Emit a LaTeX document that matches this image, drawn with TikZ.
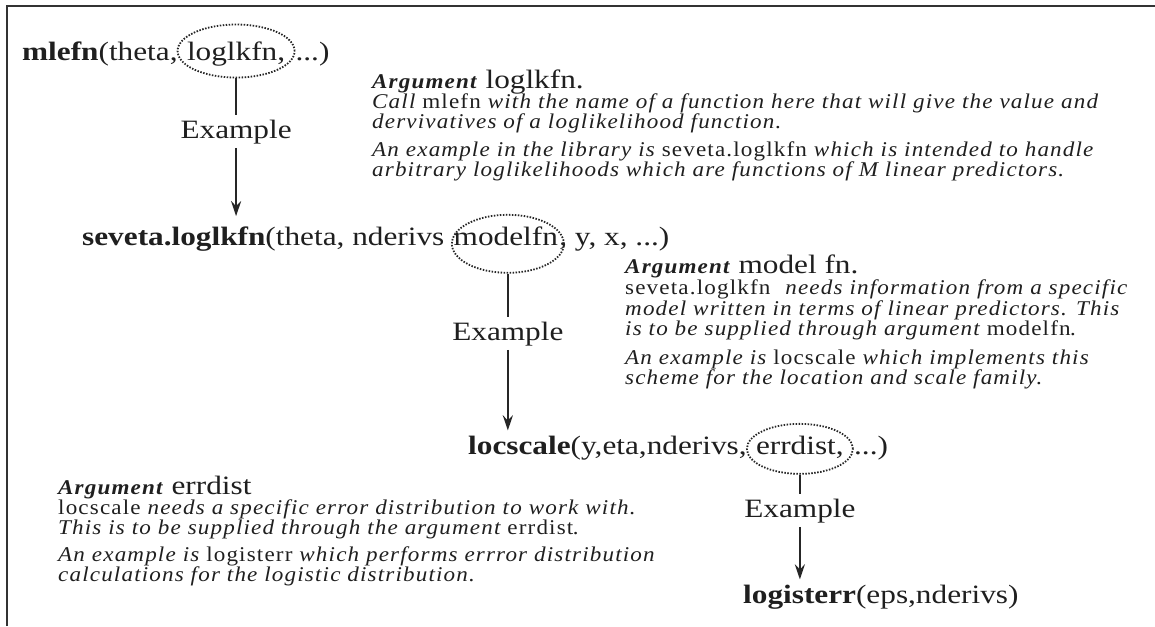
\documentclass[tikz,border=0pt]{standalone}
\usepackage{fontspec}
\setmainfont{Liberation Serif}[
  BoldFont={Liberation Serif Bold},
  ItalicFont={Liberation Serif Italic},
  BoldItalicFont={Liberation Serif Bold Italic},
  FakeStretch=1.18]
\newfontfamily\bodyfam{Liberation Serif}[
  BoldFont={Liberation Serif Bold},
  ItalicFont={Liberation Serif Italic},
  BoldItalicFont={Liberation Serif Bold Italic},
  FakeStretch=1.1, LetterSpace=5.5]
\usetikzlibrary{arrows.meta,shapes.geometric}
\newcommand{\mainsz}{\fontsize{26.5}{30}\selectfont}
\newcommand{\bodysz}{\bodyfam\fontsize{21}{21}\selectfont}
\tikzset{
  rowtext/.style={font=\mainsz, inner sep=0pt, anchor=base west, text=black!88},
  bodyline/.style={font=\bodysz\itshape, inner sep=0pt, anchor=base west, text=black!88},
  exlabel/.style={font=\mainsz, inner xsep=2pt, inner ysep=4pt, anchor=base, text=black!88},
  dotell/.style={ellipse, draw=black!85, line width=1.8pt, dash pattern=on 1.5pt off 1.5pt, inner sep=0pt},
  conn/.style={line width=2.3pt, draw=black!85},
  arr/.style={conn, -{Stealth[length=15pt,width=10pt,inset=5pt]}},
  frame/.style={line width=2.6pt, draw=black!80},
}
\newcommand{\hd}[1]{\textbf{Argument}\hspace{9pt}{\rmfamily\mainsz\upshape #1}}
\begin{document}
\begin{tikzpicture}[x=1pt,y=-1pt]
\useasboundingbox (0,0) rectangle (1155,626);
\coordinate (fa) at (7,626);
\coordinate (fb) at (7,6);
\coordinate (fc) at (1155,6);
\draw[frame] (fa) -- (fb) -- (fc);

% ---- row 1
\node[rowtext] (r1a) at (22,60) {\textbf{mlefn}(theta,};
\node[rowtext] (r1b) at ([xshift=9pt]r1a.base east) {loglkfn,};
\node[rowtext] (r1c) at ([xshift=10pt]r1b.base east) {...)};
\node[dotell, minimum width=117pt, minimum height=53pt] (e1) at ([yshift=2.5pt]r1b.center) {};

% ---- row 2
\node[rowtext] (r2a) at (82,245) {\textbf{seveta.loglkfn}(theta, nderivs};
\node[rowtext] (r2b) at ([xshift=9pt]r2a.base east) {modelfn};
\node[rowtext] (r2c) at ([xshift=1pt]r2b.base east) {, y, x, ...)};
\node[dotell, minimum width=112pt, minimum height=58pt] (e2) at ([xshift=2pt,yshift=-8pt]r2b.center) {};

% ---- row 3
\node[rowtext] (r3a) at (468,454) {\textbf{locscale}(y,eta,nderivs,};
\node[rowtext] (r3b) at ([xshift=9pt]r3a.base east) {errdist,};
\node[rowtext] (r3c) at ([xshift=10pt]r3b.base east) {...)};
\node[dotell, minimum width=106pt, minimum height=50pt] (e3) at ([yshift=-2pt]r3b.center) {};

% ---- row 4
\node[rowtext] (r4) at (743,603) {\textbf{logisterr}(eps,nderivs)};

% ---- Example labels and connectors
\coordinate (y1) at (0,138);
\coordinate (y2) at (0,340);
\coordinate (y3) at (0,517);
\node[exlabel] (x1) at (e1.south |- y1) {Example};
\node[exlabel] (x2) at (e2.south |- y2) {Example};
\node[exlabel] (x3) at (e3.south |- y3) {Example};
\draw[conn] (e1.south) -- (x1.north);
\draw[arr, shorten >=10pt] (x1.south) -- (x1.south |- r2a.north);
\draw[conn] (e2.south) -- (x2.north);
\draw[arr, shorten >=5pt] (x2.south) -- (x2.south |- r3a.north);
\draw[conn] (e3.south) -- (x3.north);
\draw[arr, shorten >=5pt] (x3.south) -- (x3.south |- r4.north);

% ---- block 1
\node[bodyline] (b1h) at (372,88) {\hd{loglkfn.}};
\node[bodyline] (b1a) at (372,108) {Call {\upshape mlefn} with the name of a function here that will give the value and};
\node[bodyline] (b1b) at (372,128) {dervivatives of a loglikelihood function.};
\node[bodyline] (b1c) at (372,156) {An example in the library is {\upshape seveta.loglkfn} which is intended to handle};
\node[bodyline] (b1d) at (372,176) {arbitrary loglikelihoods which are functions of M linear predictors.};

% ---- block 2
\node[bodyline] (b2h) at (625,273) {\hd{model fn.}};
\node[bodyline] (b2a) at (625,294) {{\upshape seveta.loglkfn}\hspace{8pt} needs information from a specific};
\node[bodyline] (b2b) at (625,315) {model written in terms of linear predictors. This};
\node[bodyline] (b2c) at (625,335) {is to be supplied through argument {\upshape modelfn}.};
\node[bodyline] (b2d) at (625,364) {An example is {\upshape locscale} which implements this};
\node[bodyline] (b2e) at (625,384) {scheme for the location and scale family.};

% ---- block 3
\node[bodyline] (b3h) at (58,494) {\hd{errdist}};
\node[bodyline] (b3a) at (58,514) {{\upshape locscale} needs a specific error distribution to work with.};
\node[bodyline] (b3b) at (58,534) {This is to be supplied through the argument {\upshape errdist}.};
\node[bodyline] (b3c) at (58,561) {An example is {\upshape logisterr} which performs errror distribution};
\node[bodyline] (b3d) at (58,581) {calculations for the logistic distribution.};
\end{tikzpicture}
\end{document}
